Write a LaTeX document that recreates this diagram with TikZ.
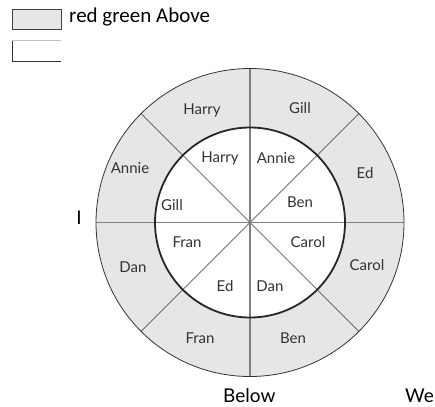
\documentclass[tikz,border=0pt]{standalone}
\usepackage{fontspec}
\setmainfont{Lato}
\newfontfamily\carl{Carlito}
\definecolor{ringgray}{HTML}{E6E6E6}
\definecolor{axisgray}{HTML}{7F7F7F}
\definecolor{txtgray}{HTML}{333333}
\begin{document}
\begin{tikzpicture}[x=1pt,y=-1pt,
  lab/.style={font=\fontsize{15}{17}\selectfont, text=txtgray, inner sep=0pt},
  big/.style={font=\fontsize{19}{22}\selectfont, text=black, inner sep=0pt},
  leg/.style={font=\carl\fontsize{21}{24}\selectfont, text=black, inner sep=0pt}]
\useasboundingbox (0,0) rectangle (435,406);
\coordinate (c) at (250,222.5);
% rings
\fill[ringgray] (c) circle[radius=154];
\fill[white] (c) circle[radius=95];
% diagonals
\foreach \a in {45,135,225,315}
  \draw[line width=0.6pt, txtgray] (c) -- ++(\a:154);
% axes
\draw[line width=1.4pt, axisgray] ([yshift=154]c) -- ([yshift=-154]c);
\draw[line width=1.4pt, axisgray] ([xshift=-154]c) -- ([xshift=154]c);
% circles
\draw[line width=0.8pt, txtgray] (c) circle[radius=154];
\draw[line width=1.8pt, black!85] (c) circle[radius=95];
% outer labels
\node[lab] (oH) at (202,110) {Harry};
\node[lab] (oG) at (300,108) {Gill};
\node[lab] (oE) at (365,173) {Ed};
\node[lab] (oC) at (367,265) {Carol};
\node[lab] (oB) at (293,338) {Ben};
\node[lab] (oF) at (200,338) {Fran};
\node[lab] (oD) at (133,267) {Dan};
\node[lab] (oA) at (130,168) {Annie};
% inner labels
\node[lab] (iH) at (220,158) {Harry};
\node[lab] (iA) at (276,158) {Annie};
\node[lab] (iB) at (300,202) {Ben};
\node[lab] (iG) at (172,205) {Gill};
\node[lab] (iF) at (187,242) {Fran};
\node[lab] (iC) at (308,242) {Carol};
\node[lab] (iE) at (225,286) {Ed};
\node[lab] (iD) at (270,286) {Dan};
% legend
\draw[fill=ringgray, draw=black!75, line width=0.8pt] (12,9) rectangle (61,29);
\draw[draw=black!25, line width=1pt] (12,41) -- (61,41);
\draw[draw=black!80, line width=0.8pt] (12,41) -- (12,61) -- (61,61);
\node[leg, anchor=base west] (above) at (69,23) {red green Above};
% other texts
\node[leg] (I) at (79,218) {I};
\node[big, anchor=base west] (below) at (223,402) {Below};
\node[big, anchor=base west] (we) at (405,402) {We};
\end{tikzpicture}
\end{document}
